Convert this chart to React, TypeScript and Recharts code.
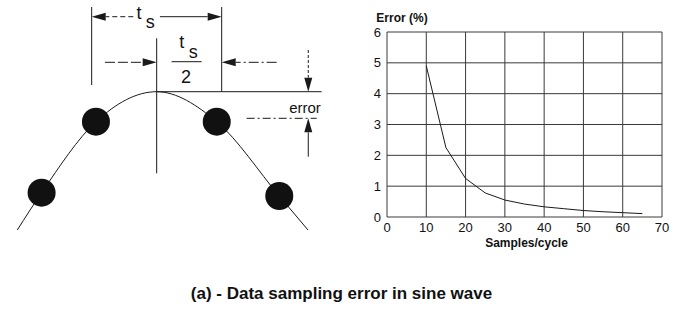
import {
  ComposedChart,
  LineChart,
  Line,
  Scatter,
  XAxis,
  YAxis,
  CartesianGrid,
  ReferenceLine,
  ReferenceDot,
} from "recharts";

// right plot: error vs samples per cycle
const SAMPLES = [10, 15, 20, 25, 30, 35, 40, 45, 50, 55, 60, 65];
const ERROR_PCT = [4.9, 2.25, 1.25, 0.78, 0.55, 0.42, 0.33, 0.27, 0.21, 0.17, 0.14, 0.11];
const X_TICKS = [0, 10, 20, 30, 40, 50, 60, 70];
const Y_TICKS = [0, 1, 2, 3, 4, 5, 6];

// left sketch: x in sample periods (t_s), y in amplitude (peak = 1)
const WAVE_X = [-1.072, -0.885, -0.467, 0, 0.462, 0.943, 1.164];
const WAVE_Y = [-0.383, -0.01, 0.7, 1, 0.7, -0.043, -0.383];
const SAMPLE_IDX = [1, 2, 4, 5];
const SKETCH_X = [-1.205, 1.41];
const SKETCH_Y = [-0.683, 1.917];

const curveData = SAMPLES.map((s, i) => ({ s, err: ERROR_PCT[i] }));
const waveData = WAVE_X.map((x, i) => ({ x, y: WAVE_Y[i] }));
const sampleData = SAMPLE_IDX.map((i) => waveData[i]);

const INK = "#1a1a1a";

type Seg = [number, number, number, number];

// plain lines of the dimension drawing
const PLAIN: { seg: Seg; dash?: string }[] = [
  { seg: [-0.5, 1.847, -0.5, 1.067] },
  { seg: [0.5, 1.847, 0.5, 1.0] },
  { seg: [0, 1.534, 0, 0.184] },
  { seg: [0.115, 1.3, 0.346, 1.3] },
  { seg: [0, 1.0, 1.269, 1.0] },
  { seg: [0.692, 0.734, 1.231, 0.734], dash: "8 3 2 3" },
];

// arrows, head at the second point
const ARROWS: { seg: Seg; dash?: string }[] = [
  { seg: [-0.18, 1.75, -0.5, 1.75], dash: "5 3" },
  { seg: [0.025, 1.75, 0.5, 1.75] },
  { seg: [-0.398, 1.294, 0, 1.294], dash: "10 3" },
  { seg: [0.923, 1.294, 0.5, 1.294], dash: "10 3 2 3" },
  { seg: [1.166, 1.417, 1.166, 1.0], dash: "3 2" },
  { seg: [1.166, 0.35, 1.166, 0.734] },
];

const LABELS: { x: number; y: number; text: string; size: number }[] = [
  { x: -0.135, y: 1.79, text: "t", size: 18 },
  { x: -0.05, y: 1.697, text: "s", size: 18 },
  { x: 0.192, y: 1.5, text: "t", size: 18 },
  { x: 0.282, y: 1.4, text: "s", size: 18 },
  { x: 0.225, y: 1.15, text: "2", size: 18 },
  { x: 1.141, y: 0.844, text: "error", size: 15 },
];

const ArrowShape = (props: any) => {
  const { x1, y1, x2, y2, strokeDasharray } = props;
  const a = Math.atan2(y2 - y1, x2 - x1);
  const len = 14;
  const half = 4;
  const bx = x2 - len * Math.cos(a);
  const by = y2 - len * Math.sin(a);
  const pts = [
    [x2, y2],
    [bx + half * Math.sin(a), by - half * Math.cos(a)],
    [bx - half * Math.sin(a), by + half * Math.cos(a)],
  ]
    .map((p) => p.join(","))
    .join(" ");
  return (
    <g>
      <line x1={x1} y1={y1} x2={bx} y2={by} stroke={INK} strokeDasharray={strokeDasharray} />
      <polygon points={pts} fill={INK} />
    </g>
  );
};

const SampleDot = (p: any) => <circle cx={p.cx} cy={p.cy} r={14} fill="#111" />;

const Sketch = () => (
  <ComposedChart width={340} height={260} margin={{ top: 0, right: 0, bottom: 0, left: 0 }}>
    <XAxis hide type="number" dataKey="x" domain={SKETCH_X} allowDataOverflow />
    <YAxis hide type="number" dataKey="y" domain={SKETCH_Y} allowDataOverflow />
    <Line
      data={waveData}
      dataKey="y"
      type="monotone"
      stroke={INK}
      strokeWidth={1}
      dot={false}
      activeDot={false}
      isAnimationActive={false}
    />
    <Scatter
      data={sampleData}
      dataKey="y"
      shape={SampleDot}
      activeShape={SampleDot}
      isAnimationActive={false}
    />
    {PLAIN.map((l, i) => (
      <ReferenceLine
        key={"p" + i}
        segment={[
          { x: l.seg[0], y: l.seg[1] },
          { x: l.seg[2], y: l.seg[3] },
        ]}
        stroke={INK}
        strokeDasharray={l.dash}
      />
    ))}
    {ARROWS.map((l, i) => (
      <ReferenceLine
        key={"a" + i}
        segment={[
          { x: l.seg[0], y: l.seg[1] },
          { x: l.seg[2], y: l.seg[3] },
        ]}
        strokeDasharray={l.dash}
        shape={ArrowShape}
      />
    ))}
    {LABELS.map((t, i) => (
      <ReferenceDot
        key={"t" + i}
        x={t.x}
        y={t.y}
        r={0}
        fill="none"
        stroke="none"
        label={{ value: t.text, position: "center", fontSize: t.size, fill: "#111" }}
      />
    ))}
  </ComposedChart>
);

const ErrorChart = () => (
  <LineChart
    width={343}
    height={260}
    data={curveData}
    margin={{ top: 32, right: 21, bottom: 13, left: 17 }}
  >
    <CartesianGrid stroke="#3a3a3a" />
    <XAxis
      dataKey="s"
      type="number"
      domain={[0, 70]}
      ticks={X_TICKS}
      axisLine={false}
      tickLine={false}
      tickMargin={0}
      height={30}
      tick={{ fontSize: 13, fill: "#111" }}
      label={{
        value: "Samples/cycle",
        position: "insideBottom",
        offset: 0,
        dx: 2,
        fontSize: 12,
        fontWeight: 700,
        fill: "#111",
      }}
    />
    <YAxis
      type="number"
      domain={[0, 6]}
      ticks={Y_TICKS}
      axisLine={false}
      tickLine={false}
      tickMargin={0}
      width={30}
      tick={{ fontSize: 13, fill: "#111" }}
      label={{
        value: "Error (%)",
        position: "top",
        offset: 10,
        dx: 30,
        fontSize: 12,
        fontWeight: 700,
        fill: "#111",
      }}
    />
    <Line
      dataKey="err"
      type="linear"
      stroke={INK}
      strokeWidth={1}
      dot={false}
      activeDot={false}
      isAnimationActive={false}
    />
  </LineChart>
);

export default function App() {
  return (
    <div
      style={{
        position: "absolute",
        left: 0,
        top: 0,
        width: 683,
        height: 309,
        background: "#fff",
        fontFamily: "'Liberation Sans', Arial, sans-serif",
      }}
    >
      <div style={{ position: "absolute", left: 0, top: 0 }}>
        <Sketch />
      </div>
      <div style={{ position: "absolute", left: 340, top: 0 }}>
        <ErrorChart />
      </div>
      <div
        style={{
          position: "absolute",
          left: 0,
          top: 284,
          width: 683,
          textAlign: "center",
          fontSize: 17,
          lineHeight: "20px",
          fontWeight: 700,
          color: "#111",
        }}
      >
        (a) - Data sampling error in sine wave
      </div>
    </div>
  );
}
